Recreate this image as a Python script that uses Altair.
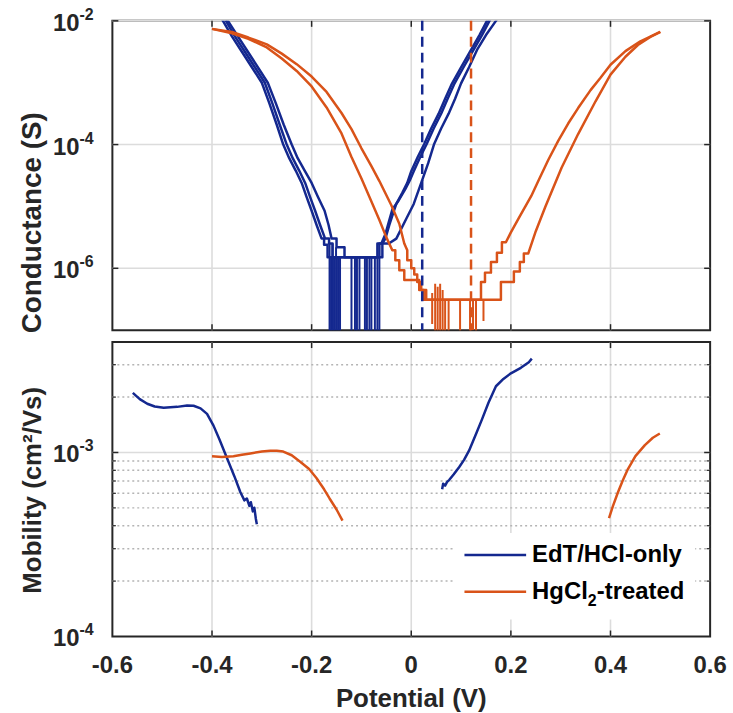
import altair as alt
import pandas as pd

# ---------------- data ----------------
x_ticks = [-0.6, -0.4, -0.2, 0.0, 0.2, 0.4, 0.6]
x_tick_labels = ["-0.6", "-0.4", "-0.2", "0", "0.2", "0.4", "0.6"]
g_ticks = [1e-6, 1e-4, 1e-2]
g_tick_exp = ["-6", "-4", "-2"]
mu_ticks = [1e-4, 1e-3]
mu_tick_exp = ["-4", "-3"]
mu_minor = [2e-4, 3e-4, 4e-4, 5e-4, 6e-4, 7e-4, 8e-4, 9e-4, 2e-3, 3e-3]
series_names = ["EdT/HCl-only", "HgCl2-treated"]
axis_titles = ["Conductance (S)", "Mobility (cm²/Vs)", "Potential (V)"]

# conductance sweeps: (potential V, log10 conductance S)
edt_sweep_a = [(-0.386, -1.88), (-0.378, -2.0), (-0.36, -2.25), (-0.34, -2.5), (-0.32, -2.75), (-0.30, -3.0),
               (-0.285, -3.33), (-0.27, -3.68), (-0.257, -4.0), (-0.245, -4.22), (-0.232, -4.42), (-0.22, -4.62),
               (-0.21, -4.85), (-0.20, -5.07), (-0.19, -5.3), (-0.18, -5.52), (-0.175, -5.52), (-0.175, -5.62),
               (-0.168, -5.62), (-0.168, -5.82), (-0.062, -5.82), (-0.058, -5.82), (-0.058, -5.6), (-0.052, -5.52),
               (-0.044, -5.3), (-0.036, -5.1), (-0.03, -4.96), (-0.018, -4.78), (-0.008, -4.62), (0.0, -4.43),
               (0.013, -4.2), (0.026, -3.99), (0.04, -3.74), (0.055, -3.5), (0.068, -3.26), (0.082, -3.01),
               (0.10, -2.75), (0.12, -2.47), (0.137, -2.23), (0.152, -2.0), (0.16, -1.88)]
edt_sweep_b = [(-0.38, -1.88), (-0.372, -2.0), (-0.354, -2.25), (-0.334, -2.5), (-0.314, -2.75), (-0.294, -3.0),
               (-0.279, -3.33), (-0.264, -3.68), (-0.25, -4.0), (-0.238, -4.22), (-0.225, -4.42), (-0.213, -4.62),
               (-0.203, -4.85), (-0.193, -5.07), (-0.183, -5.3), (-0.173, -5.52), (-0.165, -5.52), (-0.165, -5.6),
               (-0.158, -5.6), (-0.158, -5.82), (-0.068, -5.82), (-0.068, -5.6), (-0.06, -5.6), (-0.052, -5.45),
               (-0.045, -5.25), (-0.038, -5.05), (-0.025, -4.9), (-0.012, -4.72), (-0.003, -4.58), (0.005, -4.43),
               (0.018, -4.2), (0.031, -3.99), (0.045, -3.74), (0.06, -3.5), (0.073, -3.26), (0.087, -3.01),
               (0.105, -2.75), (0.125, -2.47), (0.142, -2.23), (0.157, -2.0), (0.164, -1.88)]
edt_sweep_c = [(-0.374, -1.88), (-0.368, -2.0), (-0.348, -2.25), (-0.328, -2.5), (-0.308, -2.75), (-0.288, -3.0),
               (-0.272, -3.33), (-0.256, -3.68), (-0.24, -4.0), (-0.228, -4.22), (-0.214, -4.42), (-0.20, -4.62),
               (-0.187, -4.85), (-0.174, -5.07), (-0.166, -5.3), (-0.16, -5.52), (-0.15, -5.52), (-0.15, -5.66),
               (-0.134, -5.66), (-0.134, -5.82), (-0.064, -5.82), (-0.064, -5.6), (-0.045, -5.6), (-0.03, -5.52),
               (-0.01, -5.2), (0.005, -4.96), (0.02, -4.62), (0.034, -4.3), (0.046, -3.99), (0.06, -3.74),
               (0.075, -3.5), (0.088, -3.26), (0.10, -3.01), (0.116, -2.75), (0.132, -2.47), (0.15, -2.23),
               (0.17, -2.0), (0.178, -1.88)]
hg_sweep_a = [(-0.40, -2.13), (-0.36, -2.20), (-0.327, -2.29), (-0.29, -2.43), (-0.26, -2.61), (-0.23, -2.81),
              (-0.20, -3.06), (-0.17, -3.40), (-0.14, -3.82), (-0.12, -4.20), (-0.10, -4.55), (-0.08, -4.92),
              (-0.064, -5.22), (-0.05, -5.50), (-0.038, -5.71), (-0.032, -5.71), (-0.032, -5.87), (-0.024, -5.87),
              (-0.024, -6.03), (-0.014, -6.03), (-0.014, -6.19), (0.016, -6.19), (0.016, -6.35), (0.025, -6.35),
              (0.025, -6.51), (0.14, -6.51), (0.14, -6.22), (0.148, -6.22), (0.148, -6.07), (0.16, -6.07),
              (0.16, -5.9), (0.172, -5.9), (0.172, -5.75), (0.182, -5.75), (0.182, -5.58), (0.19, -5.58),
              (0.20, -5.42), (0.215, -5.2), (0.241, -4.83), (0.255, -4.59), (0.275, -4.25), (0.295, -3.94),
              (0.315, -3.66), (0.335, -3.41), (0.36, -3.12), (0.38, -2.92), (0.40, -2.71), (0.43, -2.49),
              (0.46, -2.33), (0.50, -2.18)]
hg_sweep_b = [(-0.40, -2.13), (-0.36, -2.18), (-0.327, -2.27), (-0.29, -2.38), (-0.26, -2.53), (-0.23, -2.70),
              (-0.20, -2.90), (-0.17, -3.15), (-0.14, -3.49), (-0.12, -3.75), (-0.10, -4.06), (-0.08, -4.35),
              (-0.064, -4.59), (-0.04, -4.98), (-0.024, -5.28), (-0.014, -5.60), (-0.008, -5.71), (-0.008, -5.87),
              (0.0, -5.87), (0.0, -6.0), (0.006, -6.0), (0.006, -6.1), (0.012, -6.1), (0.012, -6.22),
              (0.02, -6.22), (0.02, -6.35), (0.03, -6.35), (0.03, -6.51), (0.18, -6.51), (0.18, -6.22),
              (0.206, -6.22), (0.206, -6.05), (0.218, -6.05), (0.218, -5.9), (0.226, -5.9), (0.226, -5.76),
              (0.235, -5.76), (0.25, -5.4), (0.269, -5.01), (0.302, -4.37), (0.335, -3.83), (0.37, -3.3),
              (0.40, -2.87), (0.43, -2.58), (0.455, -2.39), (0.48, -2.26), (0.50, -2.18)]

# noise spikes at the current floor: (V, log10 top, log10 bottom)
edt_spikes = [(-0.164, -5.6, -8), (-0.161, -5.82, -8), (-0.158, -5.6, -8), (-0.155, -5.82, -8),
              (-0.151, -5.66, -8), (-0.147, -5.82, -8), (-0.143, -5.82, -8), (-0.12, -5.82, -8),
              (-0.113, -5.82, -8), (-0.109, -5.82, -8), (-0.104, -5.82, -8), (-0.093, -5.82, -8),
              (-0.089, -5.82, -8), (-0.084, -5.82, -8), (-0.08, -5.82, -8), (-0.073, -5.82, -8),
              (-0.068, -5.82, -8), (-0.064, -5.82, -8)]
hg_spikes = [(0.042, -6.4, -6.9), (0.048, -6.25, -8), (0.053, -6.3, -7.2), (0.058, -6.25, -8),
             (0.063, -6.35, -8), (0.068, -6.51, -8), (0.075, -6.51, -8), (0.098, -6.51, -8),
             (0.118, -6.51, -8), (0.124, -6.51, -7.0), (0.13, -6.51, -8), (0.145, -6.51, -6.85)]

# charge-neutral potentials (dashed)
dashed_v = [0.022, 0.12]

# mobility branches: (potential V, log10 mobility cm2/Vs)
edt_mu_left = [(-0.559, -2.676), (-0.545, -2.71), (-0.53, -2.735), (-0.515, -2.75), (-0.497, -2.757),
               (-0.47, -2.752), (-0.45, -2.745), (-0.437, -2.746), (-0.423, -2.76), (-0.41, -2.79),
               (-0.397, -2.854), (-0.385, -2.93), (-0.37, -3.03), (-0.355, -3.13), (-0.343, -3.216),
               (-0.335, -3.26), (-0.33, -3.25), (-0.325, -3.29), (-0.322, -3.27), (-0.318, -3.32),
               (-0.315, -3.30), (-0.312, -3.36), (-0.31, -3.39)]
hg_mu_left = [(-0.40, -3.02), (-0.38, -3.025), (-0.357, -3.02), (-0.34, -3.012), (-0.323, -3.005),
              (-0.30, -2.995), (-0.283, -2.99), (-0.27, -2.99), (-0.257, -2.995), (-0.24, -3.015),
              (-0.223, -3.05), (-0.205, -3.09), (-0.19, -3.14), (-0.175, -3.2), (-0.164, -3.25),
              (-0.15, -3.31), (-0.138, -3.37)]
edt_mu_right = [(0.062, -3.2), (0.064, -3.17), (0.068, -3.18), (0.072, -3.16), (0.076, -3.15),
                (0.085, -3.12), (0.096, -3.08), (0.106, -3.04), (0.116, -2.99), (0.13, -2.9),
                (0.142, -2.82), (0.155, -2.73), (0.17, -2.64), (0.185, -2.6), (0.20, -2.57),
                (0.22, -2.54), (0.236, -2.51), (0.242, -2.49)]
hg_mu_right = [(0.397, -3.357), (0.405, -3.29), (0.415, -3.216), (0.425, -3.15), (0.435, -3.09),
               (0.45, -3.02), (0.469, -2.96), (0.485, -2.92), (0.499, -2.897)]

legend_labels = ["EdT/HCl-only", "HgCl", "2", "-treated"]

# ---------------- styling ----------------
BLUE = "#14288F"
ORANGE = "#D95319"
TXT = "#262626"
GRID = "#dcdcdc"
FONT = "Liberation Sans"
W, H1, H2 = 601, 311, 296


def traces(named):
    rows = []
    for series, sweep, pts in named:
        for i, (v, lg) in enumerate(pts):
            rows.append({"V": v, "Y": 10 ** lg, "series": series, "sweep": sweep, "i": i})
    return pd.DataFrame(rows)


def spikes(named):
    rows = []
    for series, pts in named:
        for v, top, bot in pts:
            rows.append({"V": v, "top": 10 ** top, "bot": 10 ** bot, "series": series})
    return pd.DataFrame(rows)


cond_df = traces([(series_names[0], "a", edt_sweep_a), (series_names[0], "b", edt_sweep_b),
                  (series_names[0], "c", edt_sweep_c), (series_names[1], "d", hg_sweep_a),
                  (series_names[1], "e", hg_sweep_b)])
spike_df = spikes([(series_names[0], edt_spikes), (series_names[1], hg_spikes)])
dash_df = pd.DataFrame({"V": dashed_v, "series": series_names})
mu_df = traces([(series_names[0], "l", edt_mu_left), (series_names[1], "m", hg_mu_left),
                (series_names[0], "r", edt_mu_right), (series_names[1], "s", hg_mu_right)])

xs = alt.Scale(domain=[-0.6, 0.6], nice=False, zero=False)
ys1 = alt.Scale(type="log", domain=[1e-7, 1e-2], nice=False)
ys2 = alt.Scale(type="log", domain=[1e-4, 10 ** -2.4], nice=False)
col = alt.Scale(domain=series_names, range=[BLUE, ORANGE])

xt_df = pd.DataFrame({"V": x_ticks, "lab": x_tick_labels})
xt_in = xt_df.iloc[1:-1]
one = pd.DataFrame({"k": [0]})


def X(field="V:Q"):
    return alt.X(field, scale=xs, axis=None)


def grids(yscale, major):
    gx = alt.Chart(xt_in).mark_rule(color=GRID, strokeWidth=1.6).encode(x=X())
    gy = alt.Chart(pd.DataFrame({"v": major})).mark_rule(color=GRID, strokeWidth=1.6).encode(
        y=alt.Y("v:Q", scale=yscale, axis=None), x=alt.value(0), x2=alt.value(W))
    return [gx, gy]


def frame_ticks(yscale, h, major, minor=None):
    parts = []
    parts.append(alt.Chart(xt_in).mark_rule(color=TXT, strokeWidth=1.5).encode(
        x=X(), y=alt.value(h), y2=alt.value(h - 6)))
    parts.append(alt.Chart(xt_in).mark_rule(color=TXT, strokeWidth=1.5).encode(
        x=X(), y=alt.value(0), y2=alt.value(6)))
    mj = pd.DataFrame({"v": major})
    parts.append(alt.Chart(mj).mark_rule(color=TXT, strokeWidth=1.5).encode(
        y=alt.Y("v:Q", scale=yscale, axis=None), x=alt.value(0), x2=alt.value(6)))
    parts.append(alt.Chart(mj).mark_rule(color=TXT, strokeWidth=1.5).encode(
        y=alt.Y("v:Q", scale=yscale, axis=None), x=alt.value(W), x2=alt.value(W - 6)))
    if minor:
        mn = pd.DataFrame({"v": minor})
        parts.append(alt.Chart(mn).mark_rule(color=TXT, strokeWidth=1.2).encode(
            y=alt.Y("v:Q", scale=yscale, axis=None), x=alt.value(0), x2=alt.value(3.5)))
        parts.append(alt.Chart(mn).mark_rule(color=TXT, strokeWidth=1.2).encode(
            y=alt.Y("v:Q", scale=yscale, axis=None), x=alt.value(W), x2=alt.value(W - 3.5)))
    return parts


def pow_labels(vals, exps, yscale):
    d = pd.DataFrame({"v": vals, "base": ["10"] * len(vals), "exp": exps})
    base = alt.Chart(d).mark_text(align="right", baseline="middle", font=FONT, fontSize=24,
                                  fontWeight="bold", color=TXT, dy=3).encode(
        x=alt.value(-33), y=alt.Y("v:Q", scale=yscale, axis=None), text="base:N")
    sup = alt.Chart(d).mark_text(align="left", baseline="middle", font=FONT, fontSize=16,
                                 fontWeight="bold", color=TXT, dy=-6).encode(
        x=alt.value(-33), y=alt.Y("v:Q", scale=yscale, axis=None), text="exp:N")
    return [base, sup]


def title_text(txt, x, y, angle=0, size=26):
    return alt.Chart(one).mark_text(text=txt, angle=angle, align="center", baseline="middle",
                                    font=FONT, fontSize=size, fontWeight="bold", color=TXT).encode(
        x=alt.value(x), y=alt.value(y))


# ---------------- top panel ----------------
top_lines = alt.Chart(cond_df).mark_line(clip=True, strokeWidth=2.5, strokeJoin="round").encode(
    x=X(),
    y=alt.Y("Y:Q", scale=ys1, axis=None),
    color=alt.Color("series:N", scale=col, legend=None),
    detail="sweep:N",
    order="i:Q",
)
top_spikes = alt.Chart(spike_df).mark_rule(clip=True, strokeWidth=2).encode(
    x=X(),
    y=alt.Y("top:Q", scale=ys1, axis=None), y2="bot:Q",
    color=alt.Color("series:N", scale=col, legend=None),
)
top_dash = alt.Chart(dash_df).mark_rule(strokeWidth=2.5, strokeDash=[10, 6]).encode(
    x=X(),
    color=alt.Color("series:N", scale=col, legend=None),
)
top = alt.layer(*grids(ys1, g_ticks), top_lines, top_spikes, top_dash,
                *frame_ticks(ys1, H1, g_ticks), *pow_labels(g_ticks, g_tick_exp, ys1),
                title_text(axis_titles[0], -80, 203, 270, 28)).properties(width=W, height=H1)

# ---------------- bottom panel ----------------
minor_grid = alt.Chart(pd.DataFrame({"v": mu_minor})).mark_rule(
    color="#b4b4b4", strokeWidth=1.5, strokeDash=[2, 3]).encode(
    y=alt.Y("v:Q", scale=ys2, axis=None), x=alt.value(0), x2=alt.value(W))
mu_lines = alt.Chart(mu_df).mark_line(clip=True, strokeWidth=2.5, strokeJoin="round").encode(
    x=X(),
    y=alt.Y("Y:Q", scale=ys2, axis=None),
    color=alt.Color("series:N", scale=col, legend=None),
    detail="sweep:N",
    order="i:Q",
)
x_labels = alt.Chart(xt_df).mark_text(align="center", baseline="middle", font=FONT, fontSize=24,
                                      fontWeight="bold", color=TXT).encode(
    x=X(), y=alt.value(H2 + 30), text="lab:N")

leg_box = alt.Chart(one).mark_rect(color="white").encode(
    x=alt.value(344), x2=alt.value(586), y=alt.value(192), y2=alt.value(279))
leg_l1 = alt.Chart(one).mark_rule(color=BLUE, strokeWidth=2.5).encode(
    x=alt.value(354), x2=alt.value(416), y=alt.value(214))
leg_l2 = alt.Chart(one).mark_rule(color=ORANGE, strokeWidth=2.5).encode(
    x=alt.value(354), x2=alt.value(416), y=alt.value(251))
tstyle = dict(font=FONT, fontWeight="bold", color="black", baseline="middle", align="left")
leg_t1 = alt.Chart(one).mark_text(text=legend_labels[0], fontSize=24, **tstyle).encode(
    x=alt.value(422), y=alt.value(214))
leg_t2 = alt.Chart(one).mark_text(text=legend_labels[1], fontSize=24, **tstyle).encode(
    x=alt.value(422), y=alt.value(251))
leg_t3 = alt.Chart(one).mark_text(text=legend_labels[2], fontSize=16, dy=9, **tstyle).encode(
    x=alt.value(478), y=alt.value(251))
leg_t4 = alt.Chart(one).mark_text(text=legend_labels[3], fontSize=24, **tstyle).encode(
    x=alt.value(487), y=alt.value(251))

bottom = alt.layer(*grids(ys2, [1e-3]), minor_grid, mu_lines,
                   *frame_ticks(ys2, H2, mu_ticks[1:], mu_minor),
                   *pow_labels(mu_ticks, mu_tick_exp, ys2), x_labels,
                   title_text(axis_titles[1], -80, 149, 270),
                   title_text(axis_titles[2], W / 2, 359),
                   leg_box, leg_l1, leg_l2, leg_t1, leg_t2, leg_t3, leg_t4).properties(width=W, height=H2)

chart = alt.vconcat(top, bottom, spacing=5).properties(
    padding={"left": 18, "top": 4, "right": 5, "bottom": 3},
    background="white",
).configure_view(
    stroke=TXT, strokeWidth=2,
)

chart.save("out.html", embed_options={"renderer": "svg", "actions": False})
